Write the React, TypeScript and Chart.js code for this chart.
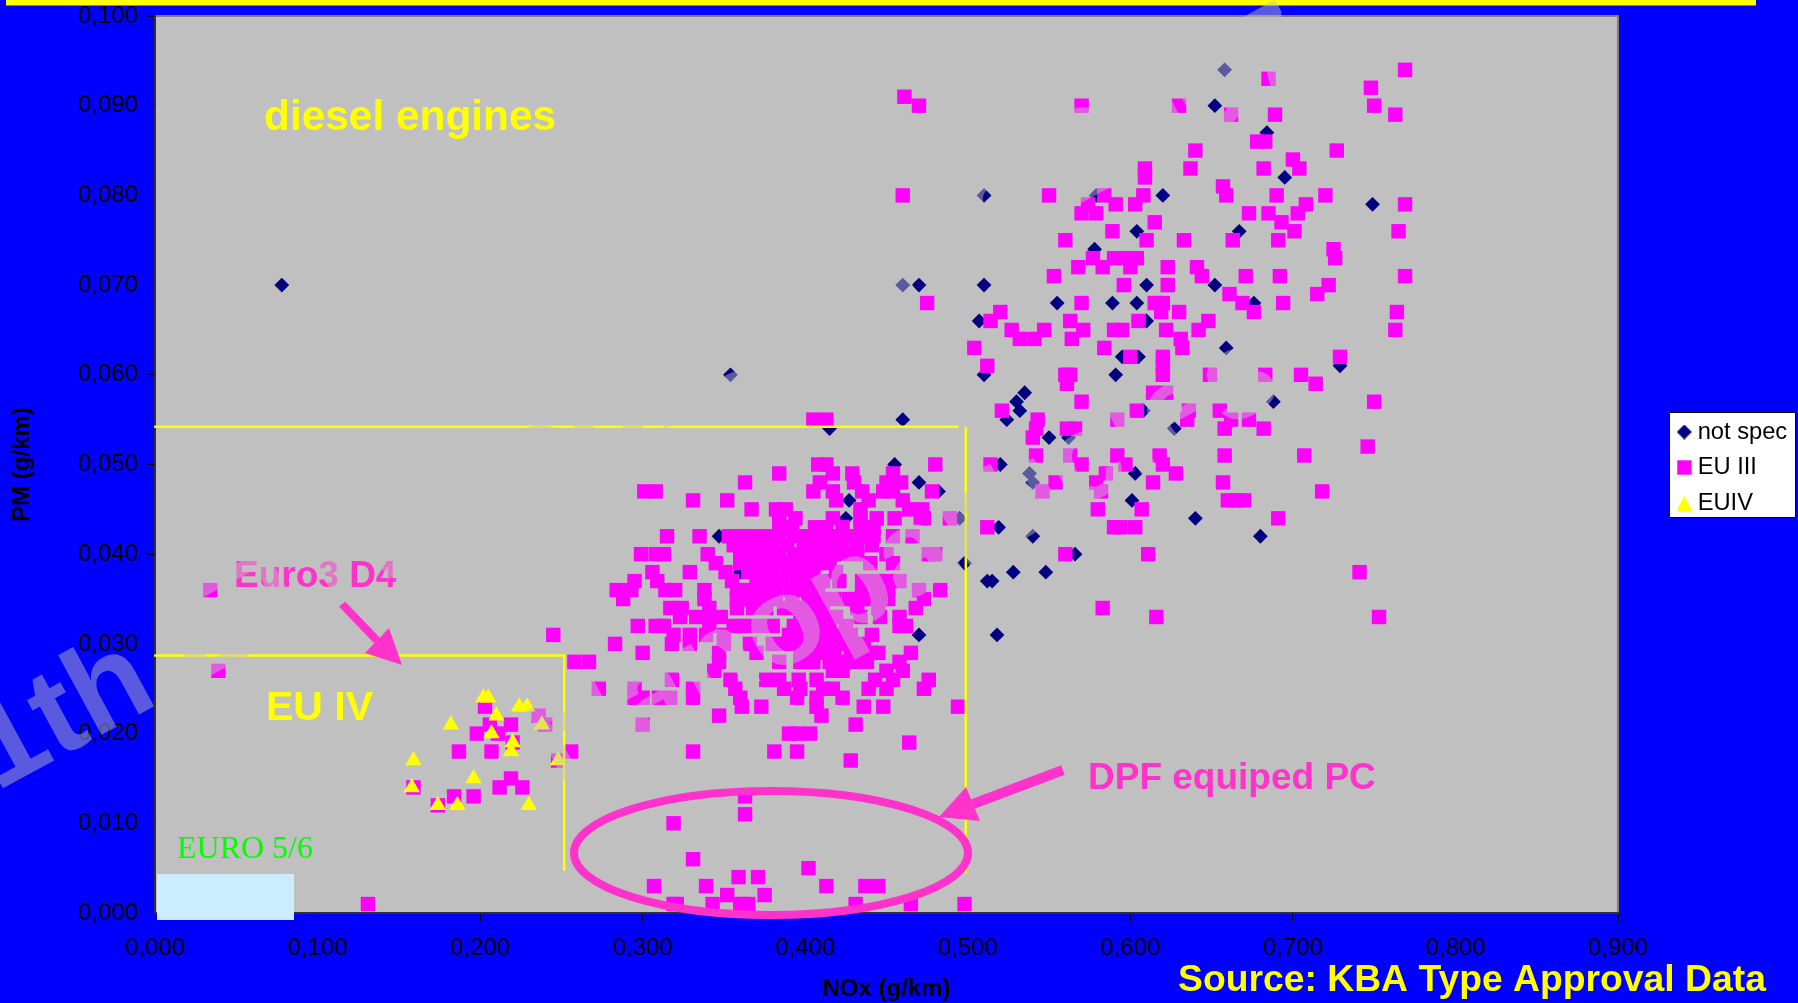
import React, { useEffect, useRef } from "react";
import { Chart, registerables } from "chart.js";

Chart.register(...registerables);

const SANS = '"Liberation Sans", Arial, sans-serif';
const SERIF = '"Liberation Serif", "Times New Roman", serif';

// Each row: [PM in mg/km, NOx values in mg/km]
const notSpecRows: [number, number[]][] = [
  [94, [658]], [90, [652]], [87, [684]], [82, [695]], [80, [510, 579, 620]], [79, [749]],
  [76, [604, 667]], [74, [578]], [70, [78, 460, 470, 510, 610, 652]], [68, [555, 589, 604, 676]],
  [66, [507, 610]], [63, [659]], [62, [595, 605]], [61, [729]], [60, [354, 510, 591]], [58, [535]],
  [57, [530, 688]], [56, [532, 608]], [55, [460, 524]], [54, [415, 627]], [53, [550, 562]],
  [50, [455, 520]], [49, [538, 603]], [48, [470, 540]], [47, [482]], [46, [601, 427]], [45, [464]],
  [44, [495, 640, 425]], [43, [519]], [42, [347, 439, 540, 680]], [40, [566]], [39, [498]],
  [38, [360, 528, 548]], [37, [512, 515]], [35, [427, 440]], [31, [470, 518]],
];

const euIIIRows: [number, number[]][] = [
  [94, [769]], [93, [685]], [92, [748]], [91, [461]], [90, [470, 570, 630, 750]], [89, [662, 689, 763]],
  [86, [678, 683]], [85, [640, 727]], [84, [700]], [83, [637, 682, 704, 609]], [82, [609]], [81, [657]],
  [80, [460, 659, 550, 584, 608, 690, 720]], [79, [591, 603, 574, 708, 769]], [78, [570, 579, 703, 685, 673]],
  [77, [693, 615]], [76, [589, 701, 765]], [75, [560, 610, 633, 663, 691]], [74, [725]],
  [73, [726, 577, 590, 595, 600, 604]], [72, [568, 583, 600, 623, 641]], [71, [644, 553, 671, 692, 769]],
  [70, [596, 623, 722]], [69, [661, 715]], [68, [475, 570, 615, 620, 669, 694]], [67, [619, 630, 676, 764, 520]],
  [66, [514, 563, 605, 648]], [65, [622, 642, 527, 547, 571, 590, 595, 763]], [64, [532, 541, 564, 631]],
  [63, [504, 584, 632]], [62, [600, 620, 729]], [61, [512, 620]], [60, [560, 563, 649, 683, 705, 620]],
  [59, [561, 714]], [58, [614, 622]], [57, [750, 570]], [56, [521, 604, 636, 655]],
  [55, [543, 592, 635, 662, 673, 405, 413]], [54, [658, 682, 542, 561, 566]], [53, [540]], [52, [746]],
  [51, [542, 563, 592, 618, 658, 707]], [50, [480, 514, 570, 597, 620, 408, 413]],
  [49, [585, 628, 384, 417, 429, 454]], [48, [554, 579, 614, 657, 363, 409, 430, 450, 459]],
  [47, [478, 546, 582, 718, 301, 308, 405, 417, 435, 448, 454]], [46, [660, 665, 670, 331, 352, 419, 439, 460]],
  [45, [580, 607, 367, 382, 388, 464, 434, 472]], [44, [489, 691, 471, 384, 394, 417, 455, 473, 444, 434]],
  [43, [590, 594, 603, 512, 384, 392, 406, 413, 423, 434, 442]],
  [42, [466, 315, 335, 353, 360, 368, 376, 384, 393, 401, 409, 417, 425, 434, 442, 454]],
  [41, [356, 364, 372, 380, 389, 399, 407, 415, 423, 432, 441]],
  [40, [478, 560, 611, 299, 308, 313, 340, 360, 368, 376, 384, 393, 401, 409, 417, 425, 432, 450, 476, 480]],
  [39, [345, 360, 368, 376, 383, 391, 399, 407, 415, 440, 454]],
  [38, [741, 306, 329, 351, 365, 372, 380, 389, 397, 405, 419]],
  [37, [295, 309, 355, 370, 378, 386, 395, 403, 411, 421, 435, 443, 451, 458]],
  [36, [34, 470, 483, 284, 293, 314, 320, 338, 358, 366, 374, 382, 391, 399, 408, 435, 444, 451]],
  [35, [288, 338, 358, 366, 374, 382, 392, 402, 410, 418, 427, 434, 442, 451, 473]],
  [34, [583, 317, 324, 341, 358, 368, 376, 387, 395, 403, 411, 432, 445, 468]],
  [33, [616, 753, 323, 333, 341, 348, 397, 405, 411, 419, 434, 446, 458]],
  [32, [297, 308, 313, 341, 356, 364, 372, 380, 393, 401, 409, 415, 425, 458, 462]],
  [31, [245, 319, 329, 339, 350, 390, 397, 405, 411, 417, 424, 428, 441]],
  [30, [283, 318, 329, 350, 366, 380, 388, 397, 403, 407, 415, 424, 430, 436]],
  [29, [300, 347, 370, 397, 404, 411, 418, 428, 434, 440, 445, 465]],
  [28, [258, 267, 347, 384, 397, 405, 415, 424, 432, 438, 458]],
  [27, [39, 344, 417, 423, 450, 460]],
  [26, [318, 354, 376, 384, 396, 407, 443, 454, 476]],
  [25, [273, 295, 331, 357, 387, 397, 411, 417, 439, 450, 473]],
  [24, [295, 300, 310, 317, 331, 360, 395, 407, 423]],
  [23, [203, 361, 373, 407, 436, 448, 494]],
  [22, [236, 347, 410]], [21, [206, 219, 240, 300, 431]], [20, [198, 211, 390, 395, 403]],
  [19, [220, 464]], [18, [187, 207, 256, 331, 381, 395]], [17, [248, 428]], [15, [219]],
  [14, [159, 212, 226]], [13, [184, 196, 363]], [12, [174]], [11, [363]], [10, [319]], [6, [331]],
  [5, [402]], [4, [359, 371]], [3, [307, 339, 413, 437, 445]], [2, [352, 375]],
  [1, [131, 319, 321, 343, 360, 365, 431, 465, 498]],
];

const euIVRows: [number, number[]][] = [
  [24, [202, 205]], [23, [224, 229]], [22, [210]], [21, [182, 238]], [20, [207]], [19, [220]],
  [18, [219]], [17, [159, 248]], [15, [196]], [14, [158]], [12, [174, 186, 230]],
];

// Limit boxes, in g/km
const euIIILimitX = [-0.0005, 0.4945];
const euIIILimitY = [0.0542, 0.0542];
const euIIISideX = [0.4988, 0.4988];
const euIIISideY = [0.0542, 0.0044];
const euIVLimitX = [-0.0005, 0.2517, 0.2517];
const euIVLimitY = [0.0287, 0.0287, 0.0047];

const xTicksMax = 0.9;
const yTicksMax = 0.1;
const seriesNames = ["not spec", "EU III", "EUIV"];

const points = (rows: [number, number[]][]) =>
  rows.flatMap(([pm, nox]) => nox.map((n) => ({ x: n / 1000, y: pm / 1000 })));
const path = (xs: number[], ys: number[]) => xs.map((x, i) => ({ x, y: ys[i] }));

const fmt = (v: number | string) => Number(v).toFixed(3).replace(".", ",");

const PINK = "#FF33CC";

function legendIcon(kind: number): HTMLCanvasElement {
  const c = document.createElement("canvas");
  c.width = 15;
  c.height = 15;
  const g = c.getContext("2d")!;
  g.fillStyle = ["#000080", "#FF00FF", "#FFFF00"][kind];
  g.beginPath();
  if (kind === 0) {
    g.moveTo(7.5, 0); g.lineTo(15, 7.5); g.lineTo(7.5, 15); g.lineTo(0, 7.5);
  } else if (kind === 1) {
    g.rect(0.3, 0.3, 14.4, 14.4);
  } else {
    g.moveTo(7.5, 0); g.lineTo(15, 15); g.lineTo(0, 15);
  }
  g.closePath();
  g.fill();
  return c;
}

function arrow(
  ctx: CanvasRenderingContext2D,
  from: [number, number],
  tip: [number, number],
  a: [number, number],
  b: [number, number],
  w: number
) {
  ctx.strokeStyle = PINK;
  ctx.fillStyle = PINK;
  ctx.lineWidth = w;
  ctx.beginPath();
  ctx.moveTo(from[0], from[1]);
  ctx.lineTo((a[0] + b[0]) / 2, (a[1] + b[1]) / 2);
  ctx.stroke();
  ctx.beginPath();
  ctx.moveTo(tip[0], tip[1]);
  ctx.lineTo(a[0], a[1]);
  ctx.lineTo(b[0], b[1]);
  ctx.closePath();
  ctx.fill();
}

function label(ctx: CanvasRenderingContext2D, s: string, x: number, y: number, font: string, color: string) {
  ctx.font = font;
  ctx.fillStyle = color;
  ctx.textAlign = "left";
  ctx.textBaseline = "middle";
  ctx.fillText(s, x, y);
}

const stage = {
  id: "stage",
  beforeLayout(chart: any) {
    const l = chart.legend;
    if (l && !l.__wide) {
      const fit = l.fit;
      l.fit = function () {
        fit.call(this);
        this.width = 180;
      };
      l.__wide = true;
    }
  },
  afterLayout(chart: any) {
    const l = chart.legend;
    if (l) {
      l.left = 1671;
      l.right = 1796;
      l.top = 405;
      l.bottom = 530;
    }
  },
  beforeDraw(chart: any) {
    const { ctx, chartArea: a } = chart;
    ctx.save();
    ctx.fillStyle = "#0000FF";
    ctx.fillRect(0, 0, 1798, 1003);
    ctx.fillStyle = "#FFFF00";
    ctx.fillRect(6, 0, 1750, 5.5);
    ctx.fillStyle = "#C0C0C0";
    ctx.fillRect(a.left, a.top, a.right - a.left, a.bottom - a.top);
    ctx.strokeStyle = "#808080";
    ctx.lineWidth = 2;
    ctx.beginPath();
    ctx.moveTo(a.left, a.top);
    ctx.lineTo(a.right, a.top);
    ctx.lineTo(a.right, a.bottom);
    ctx.stroke();
    ctx.fillStyle = "#FFFFFF";
    ctx.strokeStyle = "#000000";
    ctx.lineWidth = 1;
    ctx.fillRect(1669.5, 412.5, 126, 105);
    ctx.strokeRect(1669.5, 412.5, 126, 105);
    ctx.restore();
  },
  afterDatasetsDraw(chart: any) {
    const { ctx } = chart;
    ctx.save();
    ctx.fillStyle = "#CCECFF";
    ctx.fillRect(157, 874, 137, 46);
    label(ctx, "diesel engines", 264, 118.5, `bold 42.4px ${SANS}`, "#FFFF00");
    label(ctx, "EU IV", 266, 708.5, `bold 41px ${SANS}`, "#FFFF00");
    label(ctx, "Euro3 D4", 234, 576.5, `bold 37px ${SANS}`, PINK);
    label(ctx, "DPF equiped PC", 1088, 779, `bold 37px ${SANS}`, PINK);
    label(ctx, "EURO 5/6", 177, 850, `32px ${SERIF}`, "#00FF00");
    label(ctx, "Source: KBA Type Approval Data", 1178, 980.5, `bold 37.3px ${SANS}`, "#FFFF00");
    ctx.strokeStyle = PINK;
    ctx.lineWidth = 8;
    ctx.beginPath();
    ctx.ellipse(771, 853, 197, 62, 0, 0, Math.PI * 2);
    ctx.stroke();
    arrow(ctx, [342, 604], [402, 665], [365, 653], [389, 628], 8);
    arrow(ctx, [1063, 770], [939, 817], [980, 821], [966, 787], 10);
    ctx.restore();
  },
  afterDraw(chart: any) {
    const { ctx } = chart;
    ctx.save();
    ctx.fillStyle = "rgba(192,192,192,0.47)";
    ctx.font = `bold 125px ${SANS}`;
    ctx.textAlign = "left";
    ctx.textBaseline = "alphabetic";
    const lines: [string, number, number][] = [
      ["11th ETH Conference 2007", -59, 822],
      ["Nanoparticles", 560, 790],
    ];
    for (const [s, x, y] of lines) {
      ctx.save();
      ctx.translate(x, y);
      ctx.rotate((-28.5 * Math.PI) / 180);
      ctx.fillText(s, 0, 0);
      ctx.restore();
    }
    ctx.restore();
  },
};

export default function App() {
  const ref = useRef<HTMLCanvasElement>(null);
  useEffect(() => {
    document.body.style.margin = "0";
    document.body.style.background = "#0000FF";
    const icons = [legendIcon(0), legendIcon(1), legendIcon(2)];
    const limit = (data: { x: number; y: number }[]) => ({
      type: "scatter" as const,
      label: "",
      data,
      showLine: true,
      borderColor: "#FFFF00",
      borderWidth: 2.5,
      pointRadius: 0,
      order: -1,
      clip: false as any,
    });
    const chart = new Chart(ref.current!, {
      type: "scatter",
      data: {
        datasets: [
          {
            label: seriesNames[0],
            data: points(notSpecRows),
            pointStyle: "rectRot",
            pointRadius: 7.4,
            pointBorderWidth: 0,
            backgroundColor: "#000080",
            order: 3,
            clip: false as any,
          },
          {
            label: seriesNames[1],
            data: points(euIIIRows),
            pointStyle: "rect",
            pointRadius: 10.2,
            pointBorderWidth: 0,
            backgroundColor: "#FF00FF",
            order: 2,
            clip: false as any,
          },
          {
            label: seriesNames[2],
            data: points(euIVRows),
            pointStyle: "triangle",
            pointRadius: 9.5,
            pointBorderWidth: 0,
            backgroundColor: "#FFFF00",
            order: 1,
            clip: false as any,
          },
          limit(path(euIIILimitX, euIIILimitY)),
          limit(path(euIIISideX, euIIISideY)),
          limit(path(euIVLimitX, euIVLimitY)),
        ] as any,
      },
      options: {
        responsive: false,
        animation: false,
        devicePixelRatio: 1,
        layout: { autoPadding: false, padding: { left: 0, right: 0, top: 16, bottom: 0 } },
        plugins: {
          tooltip: { enabled: false },
          legend: {
            display: true,
            position: "right",
            labels: {
              color: "#000000",
              font: { family: SANS, size: 23.7 },
              usePointStyle: true,
              pointStyleWidth: 3,
              padding: 11.8,
              generateLabels: () =>
                seriesNames.map((text, i) => ({
                  text,
                  datasetIndex: i,
                  pointStyle: icons[i],
                  fontColor: "#000000",
                  lineWidth: 0,
                  strokeStyle: "transparent",
                  fillStyle: "transparent",
                  hidden: false,
                })) as any,
            },
          },
        },
        scales: {
          x: {
            type: "linear",
            min: 0,
            max: xTicksMax,
            afterFit: (s: any) => {
              s.height = 90;
              s.paddingLeft = 0;
              s.paddingRight = 0;
            },
            border: { display: true, color: "#303030", width: 2 },
            grid: { display: true, drawOnChartArea: false, drawTicks: true, tickLength: 8, color: "#000000" },
            ticks: {
              stepSize: 0.1,
              maxRotation: 0,
              autoSkip: false,
              padding: 13,
              color: "#000000",
              font: { family: SANS, size: 24 },
              callback: fmt,
            },
            title: {
              display: true,
              text: "NOx (g/km)",
              color: "#000000",
              font: { family: SANS, size: 24, weight: "bold" },
              padding: { top: 0, bottom: -1 },
            },
          },
          y: {
            type: "linear",
            min: 0,
            max: yTicksMax,
            afterFit: (s: any) => {
              s.width = 155;
              s.paddingTop = 0;
              s.paddingBottom = 0;
            },
            border: { display: true, color: "#303030", width: 2 },
            grid: { display: true, drawOnChartArea: false, drawTicks: true, tickLength: 7, color: "#000000" },
            ticks: {
              stepSize: 0.01,
              autoSkip: false,
              padding: 10,
              color: "#000000",
              font: { family: SANS, size: 24 },
              callback: fmt,
            },
            title: {
              display: true,
              text: "PM (g/km)",
              color: "#000000",
              font: { family: SANS, size: 24, weight: "bold" },
              padding: { top: 8, bottom: 0 },
            },
          },
        },
      },
      plugins: [stage as any],
    });
    return () => chart.destroy();
  }, []);
  return (
    <div style={{ position: "fixed", left: 0, top: 0, width: 1798, height: 1003, background: "#0000FF" }}>
      <canvas ref={ref} width={1798} height={1003} style={{ display: "block", width: 1798, height: 1003 }} />
    </div>
  );
}
